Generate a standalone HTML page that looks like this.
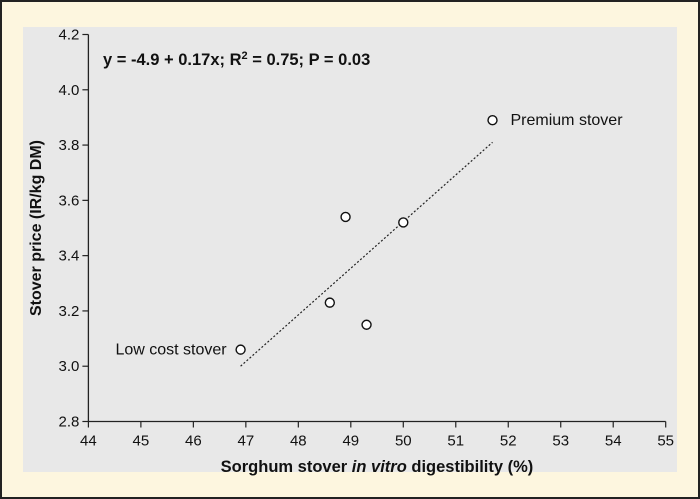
<!DOCTYPE html>
<html><head><meta charset="utf-8"><style>
html,body{margin:0;padding:0;}
body{width:700px;height:499px;overflow:hidden;background:#fdf6df;}
svg{display:block;font-family:"Liberation Sans",Arial,sans-serif;}
</style></head><body>
<svg id="chart" width="700" height="499">
<rect x="1" y="1" width="698" height="497" fill="#fdf6df" stroke="#222" stroke-width="2"/>
<rect x="23" y="27" width="654" height="445" fill="#e8e8e8"/>
<text x="103" y="65" font-size="16.5" font-weight="bold" fill="#111">y = -4.9 + 0.17x; R<tspan dy="-6" font-size="11">2</tspan><tspan dy="6"> = 0.75; P = 0.03</tspan></text>
<text x="377" y="472" font-size="16.5" font-weight="bold" text-anchor="middle" fill="#111">Sorghum stover <tspan font-style="italic">in vitro</tspan> digestibility (%)</text>
<text transform="translate(41,228) rotate(-90)" font-size="16" font-weight="bold" text-anchor="middle" fill="#111">Stover price (IR/kg DM)</text>
<g id="axes"></g><g id="marks"></g>
</svg>
<script>
const xTicks=[44,45,46,47,48,49,50,51,52,53,54,55];
const yTicks=[2.8,3.0,3.2,3.4,3.6,3.8,4.0,4.2];
const digestibility=[46.9,48.6,48.9,49.3,50.0,51.7];
const price=[3.06,3.23,3.54,3.15,3.52,3.89];
const trendX=[46.9,51.7];
const trendY=[3.0,3.81];
const pointLabels=["Low cost stover","","","","","Premium stover"];
const NS="http://www.w3.org/2000/svg";
const X0=88.4,X1=665.7,Y0=421.5,Y1=34.5;
const sx=v=>X0+(v-44)/(55-44)*(X1-X0);
const sy=v=>Y0-(v-2.8)/(4.2-2.8)*(Y0-Y1);
function mk(t,a,p){const e=document.createElementNS(NS,t);for(const k in a)e.setAttribute(k,a[k]);p.appendChild(e);return e;}
const ax=document.getElementById('axes'),mg=document.getElementById('marks');
let l=mk('line',{x1:X0,y1:Y0,x2:X1,y2:Y0,stroke:'#222','stroke-width':1.3},ax);


l=mk('line',{x1:X0,y1:Y0,x2:X0,y2:Y1,stroke:'#222','stroke-width':1.3},ax);


xTicks.forEach(v=>{const x=sx(v);
mk('line',{x1:x,y1:Y0,x2:x,y2:Y0+6,stroke:'#222','stroke-width':1.2},ax);
const t=mk('text',{x:x,y:Y0+24,'font-size':15,'text-anchor':'middle',fill:'#111'},ax);t.textContent=v;

});
yTicks.forEach(v=>{const y=sy(v);
mk('line',{x1:X0-6,y1:y,x2:X0,y2:y,stroke:'#222','stroke-width':1.2},ax);
const t=mk('text',{x:X0-9,y:y+5,'font-size':15,'text-anchor':'end',fill:'#111'},ax);t.textContent=v.toFixed(1);

});
l=mk('line',{x1:sx(trendX[0]),y1:sy(trendY[0]),x2:sx(trendX[1]),y2:sy(trendY[1]),stroke:'#222','stroke-width':1.2,'stroke-dasharray':'2,2'},mg);


digestibility.forEach((d,i)=>{
const c=mk('circle',{cx:sx(d),cy:sy(price[i]),r:4.5,fill:'#fff',stroke:'#111','stroke-width':1.4},mg);


if(pointLabels[i]){const left=i===0;
const t=mk('text',{x:sx(d)+(left?-14:18),y:sy(price[i])+5,'font-size':16,'text-anchor':left?'end':'start',fill:'#111'},mg);
t.textContent=pointLabels[i];

}
});
</script>
</body></html>
